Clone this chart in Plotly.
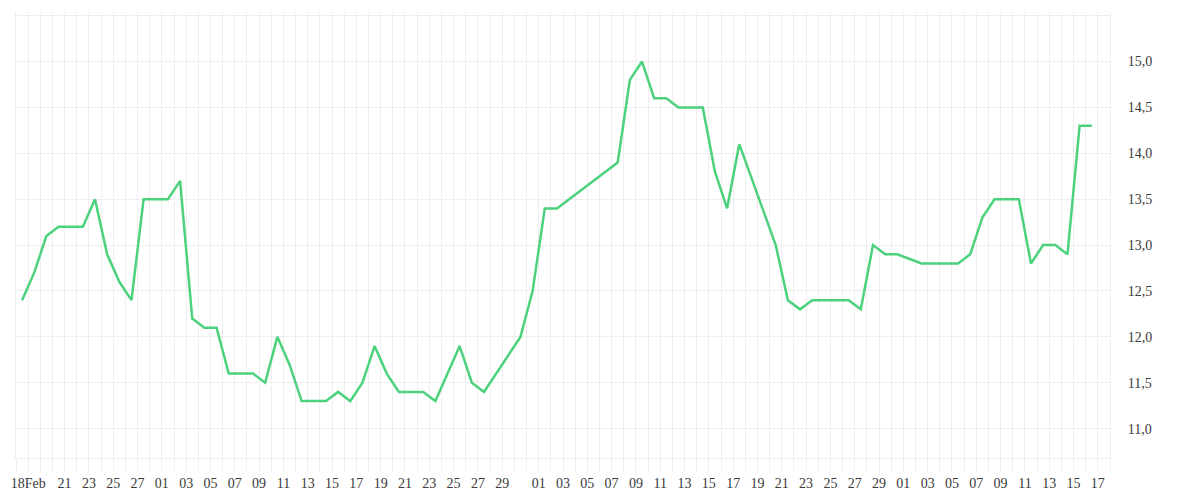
import plotly.graph_objects as go

# ---- data ----
dates = [
    "2023-02-17", "2023-02-18", "2023-02-19", "2023-02-20", "2023-02-21", "2023-02-22",
    "2023-02-23", "2023-02-24", "2023-02-25", "2023-02-26", "2023-02-27", "2023-02-28",
    "2023-03-01", "2023-03-02", "2023-03-03", "2023-03-04", "2023-03-05", "2023-03-06",
    "2023-03-07", "2023-03-08", "2023-03-09", "2023-03-10", "2023-03-11", "2023-03-12",
    "2023-03-13", "2023-03-14", "2023-03-15", "2023-03-16", "2023-03-17", "2023-03-18",
    "2023-03-19", "2023-03-20", "2023-03-21", "2023-03-22", "2023-03-23", "2023-03-24",
    "2023-03-25", "2023-03-26", "2023-03-27", "2023-03-30", "2023-03-31", "2023-04-01",
    "2023-04-02", "2023-04-07", "2023-04-08", "2023-04-09", "2023-04-10", "2023-04-11",
    "2023-04-12", "2023-04-13", "2023-04-14", "2023-04-15", "2023-04-16", "2023-04-17",
    "2023-04-20", "2023-04-21", "2023-04-22", "2023-04-23", "2023-04-24", "2023-04-25",
    "2023-04-26", "2023-04-27", "2023-04-28", "2023-04-29", "2023-04-30", "2023-05-02",
    "2023-05-03", "2023-05-04", "2023-05-05", "2023-05-06", "2023-05-07", "2023-05-08",
    "2023-05-09", "2023-05-10", "2023-05-11", "2023-05-12", "2023-05-13", "2023-05-14",
    "2023-05-15", "2023-05-16",
]
values = [
    12.4, 12.7, 13.1, 13.2, 13.2, 13.2,
    13.5, 12.9, 12.6, 12.4, 13.5, 13.5,
    13.5, 13.7, 12.2, 12.1, 12.1, 11.6,
    11.6, 11.6, 11.5, 12.0, 11.7, 11.3,
    11.3, 11.3, 11.4, 11.3, 11.5, 11.9,
    11.6, 11.4, 11.4, 11.4, 11.3, 11.6,
    11.9, 11.5, 11.4, 12.0, 12.5, 13.4,
    13.4, 13.9, 14.8, 15.0, 14.6, 14.6,
    14.5, 14.5, 14.5, 13.8, 13.4, 14.1,
    13.0, 12.4, 12.3, 12.4, 12.4, 12.4,
    12.4, 12.3, 13.0, 12.9, 12.9, 12.8,
    12.8, 12.8, 12.8, 12.9, 13.3, 13.5,
    13.5, 13.5, 12.8, 13.0, 13.0, 12.9,
    14.3, 14.3,
]

x_tick_dates = [
    "2023-02-18", "2023-02-21", "2023-02-23", "2023-02-25", "2023-02-27",
    "2023-03-01", "2023-03-03", "2023-03-05", "2023-03-07", "2023-03-09", "2023-03-11",
    "2023-03-13", "2023-03-15", "2023-03-17", "2023-03-19", "2023-03-21", "2023-03-23",
    "2023-03-25", "2023-03-27", "2023-03-29",
    "2023-04-01", "2023-04-03", "2023-04-05", "2023-04-07", "2023-04-09", "2023-04-11",
    "2023-04-13", "2023-04-15", "2023-04-17", "2023-04-19", "2023-04-21", "2023-04-23",
    "2023-04-25", "2023-04-27", "2023-04-29",
    "2023-05-01", "2023-05-03", "2023-05-05", "2023-05-07", "2023-05-09", "2023-05-11",
    "2023-05-13", "2023-05-15", "2023-05-17",
]
x_tick_labels = ["18Feb"] + [d[-2:] for d in x_tick_dates[1:]]

y_tick_vals = [11.0, 11.5, 12.0, 12.5, 13.0, 13.5, 14.0, 14.5, 15.0]

GRID = "#eeeeee"
DAY_MS = 86400000

fig = go.Figure()
fig.add_trace(go.Scatter(
    x=dates, y=values, mode="lines",
    xperiod=DAY_MS, xperiodalignment="middle",
    line=dict(color="#4cd27c", width=2.5),
    hoverinfo="x+y",
))

fig.update_layout(
    width=1184, height=484,
    margin=dict(l=8, r=82, t=4, b=34, autoexpand=False),
    paper_bgcolor="white", plot_bgcolor="white",
    showlegend=False,
    separators=",.",
    font=dict(family="Liberation Serif", size=14, color="#3a3a3a"),
    xaxis=dict(
        type="date",
        automargin=False,
        range=["2023-02-17", "2023-05-18"],
        tickmode="array", tickvals=x_tick_dates, ticktext=x_tick_labels,
        showgrid=True, gridcolor=GRID, gridwidth=1,
        ticks="outside", ticklen=12, tickcolor=GRID, tickwidth=1,
        showline=True, linecolor=GRID, linewidth=1,
        minor=dict(dtick=DAY_MS, tick0="2023-02-17", showgrid=True, gridcolor=GRID,
                   ticks="outside", ticklen=12, tickcolor=GRID),
        tickangle=0,
        zeroline=False,
    ),
    yaxis=dict(
        side="right",
        automargin=False,
        range=[10.68, 15.54],
        tickmode="array", tickvals=y_tick_vals, tickformat=".1f",
        showgrid=True, gridcolor=GRID, gridwidth=1,
        minor=dict(dtick=0.5, tick0=0, showgrid=True, gridcolor=GRID),
        ticks="outside", ticklen=14, tickcolor="rgba(0,0,0,0)",
        showline=True, linecolor=GRID, mirror=True,
        zeroline=False,
    ),
)

fig.write_html("out.html")
